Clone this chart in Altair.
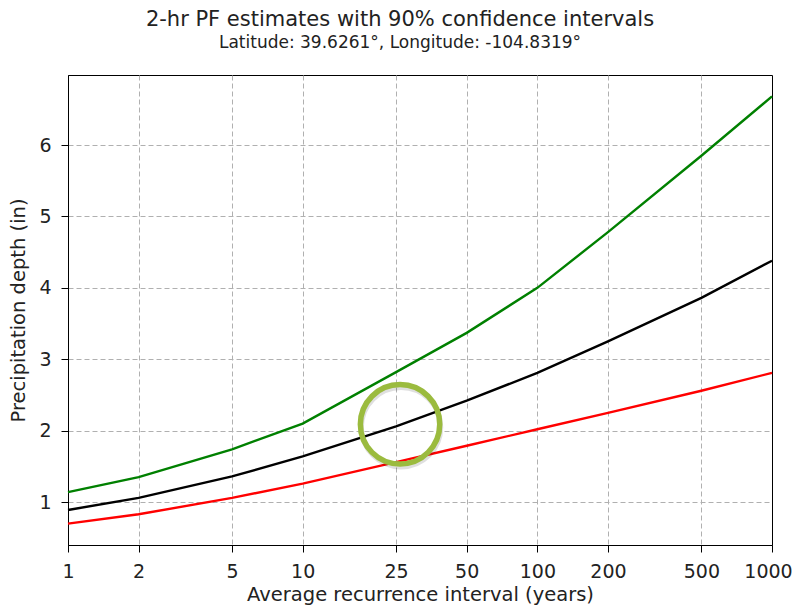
import altair as alt
import pandas as pd

# --- data ---
intervals = [1, 2, 5, 10, 25, 50, 100, 200, 500, 1000]
pf_estimate = [0.89, 1.06, 1.36, 1.64, 2.06, 2.42, 2.81, 3.25, 3.86, 4.38]
upper_90 = [1.14, 1.35, 1.74, 2.10, 2.82, 3.37, 4.00, 4.78, 5.85, 6.68]
lower_90 = [0.70, 0.83, 1.06, 1.26, 1.56, 1.79, 2.02, 2.25, 2.56, 2.81]
series_names = ["Upper bound", "PF estimate", "Lower bound"]
series_colors = ["#008000", "#000000", "#ff0000"]
x_ticks = [1, 2, 5, 10, 25, 50, 100, 200, 500, 1000]
y_ticks = [1, 2, 3, 4, 5, 6]
highlight_interval = [26]
highlight_depth = [2.09]

rows = []
for name, vals in zip(series_names, [upper_90, pf_estimate, lower_90]):
    for xv, v in zip(intervals, vals):
        rows.append({"interval": xv, "depth": v, "series": name})
df = pd.DataFrame(rows)
hl = pd.DataFrame({"interval": highlight_interval, "depth": highlight_depth})

FONT = "DejaVu Sans"
TXT = "#222222"

x_enc = alt.X(
    "interval:Q",
    scale=alt.Scale(type="log", domain=[1, 1000], nice=False),
    axis=alt.Axis(values=x_ticks, format="d", title="Average recurrence interval (years)",
                  labelPadding=10, titlePadding=4, labelFlush=False,
                  labelOffset={"condition": {"test": "datum.value >= 1000", "value": -4}, "value": 0},
                  gridOpacity={"condition": {"test": "datum.value >= 1000 || datum.value <= 1", "value": 0}, "value": 1}),
)
y_enc = alt.Y(
    "depth:Q",
    scale=alt.Scale(domain=[0.40, 6.98], nice=False, zero=False),
    axis=alt.Axis(values=y_ticks, format="d", title="Precipitation depth (in)",
                  labelPadding=10, titlePadding=10),
)

lines = alt.Chart(df).mark_line(strokeWidth=2.4).encode(
    x=x_enc,
    y=y_enc,
    color=alt.Color("series:N", scale=alt.Scale(domain=series_names, range=series_colors), legend=None),
    detail="series:N",
)

shadow = alt.Chart(hl).mark_point(
    shape="circle", filled=False, size=6300, color="#000000", strokeWidth=5,
    opacity=0.12, xOffset=1, yOffset=3,
).encode(x="interval:Q", y="depth:Q")

circle = alt.Chart(hl).mark_point(
    shape="circle", filled=False, size=6300, color="#9bbb3e", strokeWidth=5.5, opacity=1,
).encode(x="interval:Q", y="depth:Q")

chart = alt.layer(lines, shadow, circle).properties(
    width=704,
    height=470,
    autosize=alt.AutoSizeParams(type="none"),
    padding={"left": 60, "top": 67, "right": 20, "bottom": 61},
    title=alt.TitleParams(
        text="2-hr PF estimates with 90% confidence intervals",
        subtitle="Latitude: 39.6261°, Longitude: -104.8319°",
        font=FONT, fontSize=21, fontWeight="normal", color=TXT,
        subtitleFont=FONT, subtitleFontSize=17, subtitleColor=TXT,
        anchor="middle", frame="group", dx=-20, offset=24, subtitlePadding=5,
    ),
).configure_view(
    stroke="black", strokeWidth=1
).configure_axis(
    domainColor="black", tickColor="black", tickSize=7, domainWidth=1, tickWidth=1,
    gridColor="#b0b0b0", gridDash=[5, 3], gridWidth=1,
    labelFont=FONT, titleFont=FONT, labelColor=TXT, titleColor=TXT,
    labelFontSize=19, titleFontSize=19.5, titleFontWeight="normal",
)

chart.save("out.html", embed_options={"renderer": "svg", "actions": False})
